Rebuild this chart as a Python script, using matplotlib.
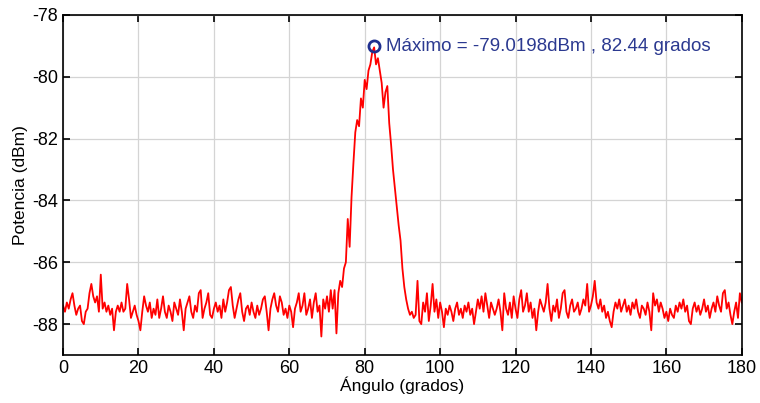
import matplotlib.pyplot as plt
import numpy as np

plt.rcParams['font.family'] = ['Liberation Sans', 'DejaVu Sans']
plt.rcParams['axes.unicode_minus'] = False

# angle grid, 0.5 degree steps (0..180)
angulo = np.arange(0, 180.5, 0.5)

potencia = [
    -87.4, -87.6, -87.3, -87.5, -87.2, -87.0, -87.4, -87.7, -87.5, -87.4,   # 0-5
    -87.9, -88.0, -87.6, -87.5, -87.0, -86.7, -87.1, -87.3, -87.1, -87.6,   # 5-10
    -86.4, -87.5, -87.3, -87.6, -87.4, -87.7, -87.5, -88.2, -87.6, -87.4,   # 10-15
    -87.6, -87.3, -87.6, -87.5, -86.7, -87.2, -87.8, -87.6, -87.4, -87.7,   # 15-20
    -87.9, -88.2, -87.6, -87.1, -87.4, -87.6, -87.3, -87.8, -87.5, -87.7,   # 20-25
    -87.2, -87.8, -87.5, -87.1, -87.6, -87.8, -87.4, -87.6, -87.9, -87.3,   # 25-30
    -87.5, -87.7, -87.2, -87.6, -88.2, -87.5, -87.3, -87.1, -87.6, -87.8,   # 30-35
    -87.4, -87.6, -87.0, -86.9, -87.8, -87.5, -87.3, -87.0, -87.7, -87.8,   # 35-40
    -87.5, -87.3, -87.6, -87.4, -87.8, -87.2, -87.6, -87.3, -86.9, -86.8,   # 40-45
    -87.4, -87.8, -87.5, -87.2, -87.0, -87.6, -87.9, -87.5, -87.4, -87.7,   # 45-50
    -87.3, -87.6, -87.8, -87.4, -87.7, -87.5, -87.2, -87.1, -87.6, -88.2,   # 50-55
    -87.5, -87.2, -87.0, -87.4, -87.6, -87.1, -87.3, -87.7, -87.5, -87.8,   # 55-60
    -87.4, -87.6, -88.1, -87.5, -87.3, -87.0, -87.6, -87.4, -87.0, -87.7,   # 60-65
    -87.5, -87.2, -87.8, -87.3, -87.0, -87.6, -87.4, -88.4, -87.2, -87.5,   # 65-70
    -87.1, -87.6, -86.9, -87.5, -86.9, -88.3, -87.0, -86.6, -86.8, -86.2,   # 70-75
    -86.0, -84.6, -85.5, -83.9, -82.8, -81.8, -81.4, -81.6, -80.7, -81.0,   # 75-80
    -80.1, -80.4, -79.8, -79.6, -79.2, -79.05, -79.6, -79.4, -79.8, -80.2,  # 80-85
    -81.0, -80.5, -80.3, -81.5, -82.2, -83.0, -83.6, -84.2, -84.8, -85.3,   # 85-90
    -86.2, -86.8, -87.2, -87.5, -87.7, -87.6, -87.8, -87.7, -86.6, -87.9,   # 90-95
    -88.0, -87.3, -87.6, -87.0, -87.9, -87.4, -86.7, -87.6, -87.2, -87.8,   # 95-100
    -87.3, -87.6, -88.1, -87.5, -87.7, -87.4, -87.6, -87.9, -87.5, -87.3,   # 100-105
    -87.7, -87.5, -87.8, -87.4, -87.6, -87.3, -87.7, -87.5, -88.0, -87.6,   # 105-110
    -87.2, -87.5, -87.1, -87.6, -87.0, -87.4, -87.8, -87.3, -87.5, -87.7,   # 110-115
    -87.5, -87.2, -87.6, -88.2, -87.0, -87.5, -87.7, -87.3, -87.8, -87.1,   # 115-120
    -87.5, -87.8, -87.2, -86.9, -87.6, -87.4, -87.0, -87.6, -87.3, -87.8,   # 120-125
    -87.5, -88.2, -87.6, -87.2, -87.4, -87.6, -87.3, -86.7, -87.5, -87.9,   # 125-130
    -87.4, -87.6, -87.2, -87.8, -87.5, -87.0, -86.9, -87.6, -87.8, -87.4,   # 130-135
    -87.2, -87.6, -87.5, -87.3, -87.7, -87.5, -87.2, -87.4, -86.7, -87.6,   # 135-140
    -87.4, -87.1, -86.6, -87.3, -87.5, -87.2, -87.6, -87.4, -87.8, -87.6,   # 140-145
    -87.9, -88.1, -87.6, -87.3, -87.5, -87.2, -87.6, -87.4, -87.2, -87.6,   # 145-150
    -87.4, -87.7, -87.3, -87.5, -87.2, -87.6, -87.8, -87.4, -87.5, -87.7,   # 150-155
    -87.3, -87.6, -88.2, -87.0, -87.4, -87.2, -87.6, -87.3, -87.5, -87.8,   # 155-160
    -87.6, -87.9, -87.5, -87.7, -87.8, -87.4, -87.6, -87.3, -87.5, -87.2,   # 160-165
    -87.6, -87.4, -87.9, -88.0, -87.5, -87.3, -87.6, -87.4, -87.7, -87.5,   # 165-170
    -87.2, -87.6, -87.4, -87.8, -87.5, -87.3, -87.6, -87.1, -87.4, -87.6,   # 170-175
    -87.0, -86.9, -87.5, -87.3, -87.7, -88.0, -87.6, -87.3, -87.8, -87.0,   # 175-180
    -87.3,
]

# peak reported by the measurement
pico_angulo = 82.44
pico_potencia = -79.0198

xticks = [0, 20, 40, 60, 80, 100, 120, 140, 160, 180]
yticks = [-88, -86, -84, -82, -80, -78]

fig = plt.figure(figsize=(7.6, 4.03), dpi=100)
ax = fig.add_axes([0.083, 0.119, 0.893, 0.844])

ax.plot(angulo, potencia, color='#ff0000', linewidth=1.3)
ax.plot(pico_angulo, pico_potencia, 'o', markersize=8, markerfacecolor='none',
        markeredgecolor='#1f2f8f', markeredgewidth=2)
ax.annotate('Máximo = %.4fdBm , %.2f grados' % (pico_potencia, pico_angulo),
            xy=(pico_angulo, pico_potencia), xytext=(9, 0), textcoords='offset points',
            va='center', ha='left', color='#2b3990', fontsize=13.5)

ax.set_xlim(0, 180)
ax.set_ylim(-89, -78)
ax.set_xticks(xticks)
ax.set_yticks(yticks)
ax.grid(True, color='#d4d4d4', linewidth=0.9)
ax.set_axisbelow(True)
ax.tick_params(direction='in', length=5, labelsize=13, top=True, right=True,
               labeltop=False, labelright=False, width=1.2)
for s in ax.spines.values():
    s.set_linewidth(1.2)

ax.set_xlabel('Ángulo (grados)', fontsize=12.5, labelpad=0)
ax.set_ylabel('Potencia (dBm)', fontsize=12.5, labelpad=3)

fig.savefig('out.png', dpi=100)
